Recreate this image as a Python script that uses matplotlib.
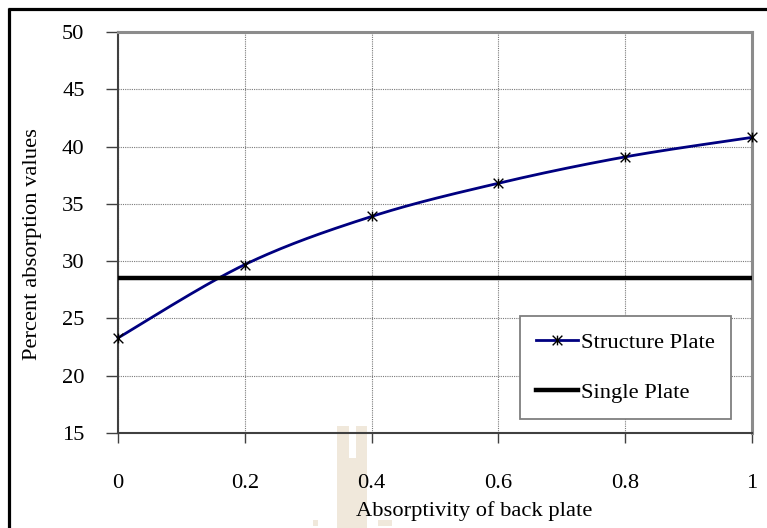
import numpy as np
import matplotlib
matplotlib.use("Agg")
import matplotlib.pyplot as plt
from matplotlib.path import Path
from matplotlib.lines import Line2D
from matplotlib.patches import Rectangle

# Data
absorptivity = [0.0, 0.2, 0.4, 0.6, 0.8, 1.0]
structure_plate = [23.3, 29.7, 33.9, 36.8, 39.1, 40.8]
single_plate = 28.5
x_ticks = [0, 0.2, 0.4, 0.6, 0.8, 1]
x_tick_labels = ["0", "0.2", "0.4", "0.6", "0.8", "1"]
y_ticks = [15, 20, 25, 30, 35, 40, 45, 50]

FS = 16.2
plt.rcParams["font.family"] = ["Liberation Serif", "DejaVu Serif"]
plt.rcParams["font.size"] = FS

W, H = 767, 528
fig = plt.figure(figsize=(W / 100, H / 100), dpi=100)
fig.patch.set_facecolor("white")


def fx(px):
    return px / W


def fy(py):
    return 1 - py / H


# outer frame of the chart object
fig.add_artist(Line2D([fx(8), 1.0], [fy(9), fy(9)], color="black", lw=2.3,
                      transform=fig.transFigure, solid_capstyle="butt"))
fig.add_artist(Line2D([fx(9), fx(9)], [fy(8), 0.0], color="black", lw=2.3,
                      transform=fig.transFigure, solid_capstyle="butt"))

# faint seal behind the axis area
seal = "#f0e8db"
for (x0, y0, x1, y1) in [(337, 426, 349, 528), (349, 458, 356, 528),
                         (356, 426, 367, 528), (378, 520, 392, 526),
                         (313, 520, 318, 526)]:
    fig.add_artist(Rectangle((fx(x0), fy(y1)), fx(x1 - x0), (y1 - y0) / H,
                             transform=fig.transFigure, facecolor=seal,
                             edgecolor="none", zorder=-5))

ax = fig.add_axes([fx(118), fy(433), fx(752 - 118), (433 - 32) / H])
ax.set_facecolor("none")


def smooth_curve(xs, ys, n=40):
    """Cubic Bezier pieces through the points (Catmull-Rom style)."""
    p = np.column_stack([xs, ys]).astype(float)
    p_ext = np.vstack([p[0], p, p[-1]])
    out = []
    t = np.linspace(0, 1, n)[:, None]
    for i in range(len(p) - 1):
        p0, p1, p2, p3 = p_ext[i], p_ext[i + 1], p_ext[i + 2], p_ext[i + 3]
        c1 = p1 + (p2 - p0) / 6
        c2 = p2 - (p3 - p1) / 6
        seg = ((1 - t) ** 3) * p1 + 3 * ((1 - t) ** 2) * t * c1 \
            + 3 * (1 - t) * t ** 2 * c2 + t ** 3 * p2
        out.append(seg if i == 0 else seg[1:])
    out = np.vstack(out)
    return out[:, 0], out[:, 1]


sx, sy = smooth_curve(absorptivity, structure_plate)
ax.plot(sx, sy, color="#000080", lw=2.0, zorder=3, clip_on=False)

star = Path([(-1, -1), (1, 1), (-1, 1), (1, -1), (0, -1), (0, 1)],
            [Path.MOVETO, Path.LINETO, Path.MOVETO, Path.LINETO,
             Path.MOVETO, Path.LINETO])
ax.plot(absorptivity, structure_plate, linestyle="none", marker=star,
        markersize=7, markeredgecolor="black", markeredgewidth=1.0,
        zorder=4, clip_on=False)

ax.axhline(single_plate, color="black", lw=3.2, zorder=3)

ax.set_xlim(0, 1)
ax.set_ylim(15, 50)
ax.set_xticks(x_ticks)
ax.set_xticklabels(x_tick_labels)
ax.set_yticks(y_ticks)

ax.grid(True, color="#7a7a7a", linestyle=(0, (1, 1)), lw=0.8)
ax.set_axisbelow(True)

for side in ("top", "right"):
    ax.spines[side].set_color("#8c8c8c")
    ax.spines[side].set_linewidth(2.2)
for side in ("left", "bottom"):
    ax.spines[side].set_color("#404040")
    ax.spines[side].set_linewidth(1.5)

ax.tick_params(axis="y", direction="out", length=8.6, width=1.0,
               color="#404040", pad=15.5)
ax.tick_params(axis="x", direction="out", length=7.5, width=1.0,
               color="#404040", pad=22)

fig.text(fx(33), fy(244), "Percent absorption values", rotation=90,
         ha="center", va="center", fontsize=FS)
fig.text(fx(474), fy(511), "Absorptivity of back plate",
         ha="center", va="center", fontsize=FS)

handles = [
    Line2D([], [], color="#000080", lw=2.0, marker=star, markersize=7,
           markeredgecolor="black", markeredgewidth=1.0),
    Line2D([], [], color="black", lw=3.2),
]
leg = fig.legend(handles, ["Structure Plate", "Single Plate"],
                 loc="upper left",
                 bbox_to_anchor=(fx(520), fy(316)),
                 bbox_transform=fig.transFigure,
                 frameon=True, fancybox=False, shadow=False,
                 borderpad=0.72, labelspacing=1.3, handlelength=1.85,
                 handletextpad=0.15, borderaxespad=0, fontsize=FS)
leg.get_frame().set_edgecolor("#7f7f7f")
leg.get_frame().set_linewidth(1.3)
leg.get_frame().set_facecolor("white")
leg.get_frame().set_alpha(1)

fig.savefig("out.png", dpi=100)
